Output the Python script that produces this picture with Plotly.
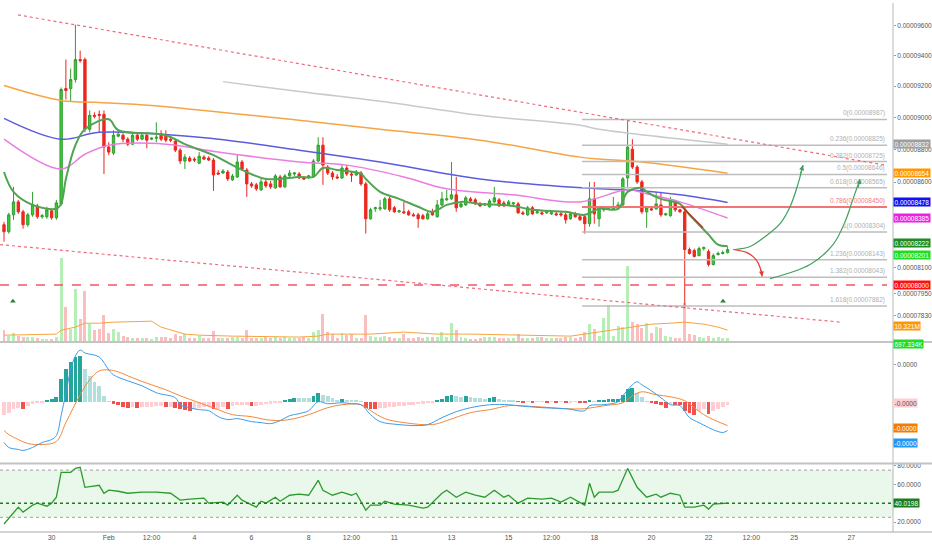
import math
import pandas as pd
import plotly.graph_objects as go

# prices are written in units of 0.00000001, MACD values in units of 1e-9
SAT = 1e-8
MU = 1e-9

times = pd.date_range("2019-01-28 08:00", periods=153, freq="4h")

open_ = [8346, 8305, 8404, 8481, 8422, 8346, 8404, 8457, 8393, 8393,
         8428, 8387, 8469, 9184, 9184, 9242, 9373, 9373, 8925, 9013,
         9019, 9019, 8814, 8777, 8882, 8888, 8863, 8832, 8888, 8863,
         8888, 8863, 8869, 8888, 8882, 8863, 8851, 8795, 8728, 8746,
         8740, 8715, 8752, 8746, 8734, 8655, 8655, 8661, 8613, 8631,
         8722, 8673, 8589, 8583, 8553, 8601, 8589, 8565, 8631, 8571,
         8637, 8649, 8649, 8625, 8631, 8631, 8728, 8826, 8691, 8655,
         8631, 8625, 8685, 8649, 8643, 8655, 8589, 8381, 8440, 8440,
         8440, 8499, 8446, 8422, 8422, 8422, 8404, 8404, 8399, 8381,
         8422, 8393, 8463, 8493, 8499, 8523, 8452, 8463, 8499, 8493,
         8469, 8463, 8452, 8481, 8493, 8475, 8463, 8469, 8469, 8416,
         8404, 8446, 8416, 8416, 8416, 8410, 8410, 8410, 8404, 8381,
         8410, 8393, 8393, 8352, 8499, 8381, 8434, 8440, 8440, 8446,
         8463, 8625, 8801, 8691, 8601, 8422, 8440, 8440, 8463, 8404,
         8399, 8481, 8434, 8422, 8202, 8196, 8167, 8207, 8190, 8116,
         8173, 8179, 8184]
close = [8305, 8404, 8481, 8422, 8346, 8404, 8463, 8393, 8399, 8434,
         8387, 8475, 9178, 9172, 9242, 9373, 9366, 8925, 9013, 9007,
         9013, 8814, 8783, 8888, 8894, 8863, 8832, 8888, 8863, 8888,
         8857, 8869, 8875, 8863, 8857, 8857, 8795, 8728, 8752, 8728,
         8734, 8758, 8740, 8734, 8643, 8649, 8667, 8619, 8637, 8722,
         8679, 8589, 8577, 8559, 8601, 8577, 8571, 8637, 8571, 8637,
         8655, 8655, 8625, 8619, 8637, 8728, 8826, 8703, 8655, 8631,
         8625, 8685, 8649, 8643, 8661, 8589, 8381, 8434, 8446, 8446,
         8499, 8434, 8422, 8428, 8416, 8404, 8399, 8381, 8381, 8410,
         8404, 8463, 8499, 8499, 8523, 8446, 8469, 8505, 8487, 8469,
         8457, 8469, 8487, 8505, 8457, 8457, 8481, 8475, 8416, 8410,
         8446, 8410, 8422, 8410, 8422, 8416, 8404, 8404, 8375, 8410,
         8393, 8375, 8352, 8499, 8410, 8446, 8440, 8446, 8452, 8463,
         8619, 8814, 8691, 8601, 8422, 8446, 8434, 8469, 8404, 8410,
         8487, 8434, 8422, 8202, 8179, 8162, 8207, 8213, 8116, 8167,
         8179, 8184, 8201]
high = [8363, 8416, 8571, 8493, 8434, 8416, 8541, 8469, 8410, 8452,
        8440, 8493, 9191, 9373, 9314, 9605, 9432, 9386, 9044, 9032,
        9044, 9044, 8844, 8919, 8913, 8900, 8875, 8900, 8900, 8900,
        8900, 8875, 8969, 8919, 8919, 8882, 8863, 8807, 8770, 8758,
        8752, 8783, 8764, 8758, 8746, 8673, 8679, 8673, 8649, 8770,
        8734, 8685, 8601, 8595, 8625, 8625, 8607, 8649, 8643, 8649,
        8673, 8661, 8661, 8637, 8643, 8740, 8875, 8875, 8703, 8667,
        8649, 8709, 8703, 8661, 8673, 8667, 8601, 8446, 8452, 8493,
        8511, 8511, 8457, 8434, 8481, 8434, 8416, 8416, 8410, 8422,
        8440, 8493, 8541, 8553, 8722, 8631, 8481, 8517, 8511, 8505,
        8481, 8475, 8499, 8571, 8505, 8487, 8493, 8481, 8481, 8428,
        8457, 8457, 8428, 8428, 8428, 8422, 8422, 8422, 8416, 8422,
        8422, 8404, 8404, 8601, 8601, 8457, 8452, 8452, 8511, 8481,
        8631, 8988, 8863, 8703, 8613, 8457, 8452, 8541, 8541, 8416,
        8511, 8493, 8440, 8434, 8213, 8207, 8219, 8219, 8202, 8179,
        8190, 8196, 8219]
low = [8247, 8294, 8375, 8410, 8323, 8334, 8393, 8381, 8381, 8381,
       8375, 8375, 8457, 9114, 9101, 9223, 9353, 8906, 8906, 8994,
       8906, 8649, 8764, 8764, 8875, 8844, 8820, 8826, 8851, 8857,
       8807, 8857, 8844, 8851, 8844, 8844, 8783, 8709, 8679, 8722,
       8722, 8709, 8734, 8728, 8547, 8643, 8649, 8607, 8607, 8625,
       8667, 8511, 8565, 8547, 8547, 8565, 8559, 8559, 8565, 8565,
       8631, 8637, 8619, 8613, 8619, 8625, 8722, 8583, 8643, 8613,
       8619, 8619, 8637, 8601, 8637, 8577, 8294, 8375, 8422, 8428,
       8434, 8422, 8416, 8416, 8410, 8399, 8393, 8328, 8375, 8375,
       8399, 8387, 8457, 8487, 8493, 8422, 8446, 8457, 8481, 8463,
       8452, 8457, 8446, 8475, 8452, 8452, 8457, 8463, 8410, 8404,
       8399, 8404, 8410, 8404, 8410, 8404, 8399, 8393, 8352, 8375,
       8387, 8369, 8294, 8334, 8352, 8334, 8422, 8434, 8434, 8440,
       8457, 8571, 8679, 8589, 8410, 8328, 8428, 8434, 8393, 8399,
       8393, 8422, 8416, 7870, 8173, 8156, 8162, 8196, 8104, 8110,
       8167, 8173, 8179]

# volume, millions
volume = [10.3, 4.7, 7.5, 4.7, 3.8, 3.8, 3.8, 2.8, 1.9, 1.9,
          1.9, 3.8, 79.0, 32.0, 11.3, 48.9, 20.7, 47.0, 16.0, 10.3,
          11.3, 24.4, 7.5, 11.3, 8.5, 4.7, 3.8, 2.8, 2.8, 2.8,
          2.8, 1.9, 3.8, 3.8, 3.8, 2.8, 6.6, 4.7, 6.6, 2.8,
          2.8, 4.7, 2.8, 2.8, 9.4, 2.8, 2.8, 2.8, 3.8, 3.8,
          2.8, 10.3, 2.8, 2.8, 2.8, 4.7, 2.8, 3.8, 2.8, 3.8,
          2.8, 2.8, 2.8, 3.8, 2.8, 8.5, 10.3, 25.4, 8.5, 6.6,
          2.8, 7.5, 5.6, 6.6, 2.8, 2.8, 24.4, 4.7, 3.8, 3.8,
          4.7, 3.8, 2.8, 2.8, 6.6, 2.8, 2.8, 3.8, 2.8, 3.8,
          3.8, 3.8, 8.5, 3.8, 16.9, 10.3, 3.8, 2.8, 1.9, 1.9,
          2.8, 3.8, 3.8, 3.8, 2.8, 2.8, 2.8, 2.8, 6.6, 2.8,
          2.8, 2.8, 3.8, 3.8, 2.8, 2.8, 2.8, 2.8, 3.8, 3.8,
          2.8, 3.8, 8.5, 16.0, 11.3, 4.7, 21.6, 33.8, 4.7, 14.1,
          13.2, 71.4, 17.9, 16.0, 12.2, 16.9, 7.5, 13.2, 12.2, 4.7,
          3.8, 2.8, 2.8, 35.7, 6.6, 5.6, 3.8, 2.8, 4.7, 2.8,
          3.8, 2.8, 2.8]
vol_ma_idx = [0, 11, 12, 15, 17, 20, 23, 31, 33, 38, 41, 48, 62, 66, 68, 77,
              84, 91, 98, 108, 119, 122, 126, 130, 133, 136, 140, 143, 147, 150, 152]
vol_ma_val = [5.6, 6.6, 10.3, 13.2, 16.9, 16.9, 17.9, 18.8, 13.2, 6.6, 5.6, 4.7,
              3.8, 4.7, 6.6, 6.6, 8.5, 6.6, 6.6, 5.6, 4.7, 6.6, 9.4, 12.2, 14.1,
              16.0, 16.9, 17.9, 16.0, 13.2, 10.32]

# moving averages on price (index of bar, value)
ema_fast_idx = [0, 2, 6, 11, 12, 13, 15, 17, 22, 24, 34, 38, 44, 48, 55, 62, 65, 67,
                70, 75, 76, 79, 83, 87, 90, 93, 96, 100, 107, 111, 118, 122, 125,
                129, 131, 134, 135, 138, 142, 144, 148, 150, 152]
ema_fast_val = [8661, 8541, 8463, 8440, 8469, 8619, 8826, 8925, 8988, 8919, 8888,
                8832, 8764, 8703, 8619, 8631, 8631, 8685, 8673, 8649, 8619, 8541,
                8499, 8452, 8422, 8463, 8481, 8469, 8457, 8434, 8422, 8404, 8440,
                8440, 8541, 8565, 8541, 8499, 8469, 8404, 8288, 8230, 8222]
ma_orange_idx = [0, 12, 20, 31, 58, 62, 79, 100, 121, 125, 134, 152]
ma_orange_val = [9204, 9108, 9095, 9076, 8994, 8982, 8925, 8857, 8752, 8740, 8722, 8654]
ma_grey_idx = [46, 62, 81, 100, 121, 125, 152]
ma_grey_val = [9229, 9165, 9095, 9013, 8950, 8925, 8832]
ma_blue_idx = [0, 12, 20, 41, 62, 79, 100, 125, 131, 142, 152]
ma_blue_val = [8994, 8863, 8906, 8875, 8795, 8722, 8619, 8559, 8553, 8523, 8478]
ma_pink_idx = [0, 12, 17, 22, 34, 45, 62, 72, 84, 93, 107, 121, 131, 135, 142, 152]
ma_pink_val = [8863, 8679, 8770, 8826, 8832, 8783, 8722, 8703, 8631, 8559, 8523,
               8481, 8553, 8529, 8481, 8385]

# MACD
macd_hist = [-13, -11, -7, -6, -7, -4, -2, -1, -0.5, 2,
             3, 5, 23, 33, 40, 45, 45.5, 33, 26, 20,
             16, 6, 0.5, -2, -3, -5, -6, -5, -6, -5,
             -5, -5, -4.5, -4.5, -5, -5, -6, -7, -8, -9,
             -7, -6, -5, -5, -7, -7, -5, -7, -4, -3.5,
             -3.5, -3.5, -4, -4, -3.5, -2.5, -2, -1, -0.5, 1,
             3, 4, 3.8, 3.7, 3.6, 6, 9, 7, 5.5, 4,
             2, 3, 1.5, 1, 0.7, 0.2, -6, -7, -7.2, -6.5,
             -6, -5.5, -5, -4.5, -4, -3.5, -3, -2.5, -2, -1.5,
             -0.7, 2, 3, 5.5, 7, 6, 4.5, 6, 5, 4,
             3.5, 3, 4, 4.3, 2.5, 2, 1.5, 1, -0.3, -0.5,
             -0.3, -0.5, -0.3, -0.2, -0.4, -0.2, -0.5, -0.2, -0.8, -0.4,
             -0.2, -0.4, -0.6, 1.5, 0.5, 1.5, 2, 2.2, 2.5, 3,
             7, 13, 14, 9, 5, 0.5, -1.5, -2, -3.5, -6,
             -2.5, -3.5, -3.7, -9, -11, -13, -9, -7.5, -12, -9,
             -7.5, -5, -3.5]
macd_idx = [0, 1, 3, 4, 6, 8, 10, 11, 12, 13, 14, 15, 16, 17, 20, 22, 23, 26, 29, 32,
            36, 37, 39, 41, 43, 45, 47, 49, 52, 54, 56, 58, 60, 62, 64, 66, 68, 71, 73,
            75, 77, 79, 83, 87, 89, 92, 95, 98, 102, 106, 108, 113, 118, 122, 123, 126,
            129, 130, 132, 133, 134, 136, 138, 140, 142, 144, 146, 148, 150, 151, 152]
macd_val = [-41, -46, -48, -49, -46, -41, -38, -34, -14, 9, 32, 46, 52, 49, 45, 32, 27,
            21, 16, 9, 4, -3, -6, -8, -9, -15, -18, -17, -20, -21, -22, -19, -14, -12,
            -9, 0, -2, -1, -2, -3, -13, -20, -23, -24, -23, -16, -10, -6, -3, -3, -4,
            -6, -7, -9, -4, -3, 0, 6, 17, 20, 17, 11, 4, -3, -4, -16, -21, -26, -30,
            -31, -29]
signal_idx = [0, 1, 3, 5, 8, 11, 13, 16, 18, 20, 22, 24, 27, 31, 34, 37, 41, 45, 48, 52,
              55, 58, 61, 64, 68, 71, 75, 77, 80, 84, 90, 93, 98, 102, 106, 108, 112,
              118, 122, 126, 130, 132, 134, 137, 140, 143, 145, 147, 149, 152]
signal_val = [-29, -33, -38, -42, -43, -40, -21, 7, 22, 31, 32, 30, 24, 17, 12, 6, -1,
              -8, -13, -15, -18, -19, -17, -13, -6, -3, -3, -9, -17, -21, -23, -19,
              -11, -8, -4, -4, -5, -7, -7, -4, -1, 6, 10, 7, 5, 1, -6, -13, -18, -24]

# RSI
rsi_idx = [0, 2, 3, 4, 6, 7, 9, 10, 11, 12, 14, 15, 16, 17, 20, 21, 22, 24, 26, 29,
           32, 35, 37, 39, 42, 43, 46, 47, 49, 50, 52, 53, 54, 55, 57, 58, 60, 62, 64,
           66, 67, 69, 71, 73, 74, 76, 77, 79, 80, 82, 85, 88, 89, 92, 93, 95, 97, 99,
           101, 103, 105, 106, 108, 110, 113, 115, 117, 119, 122, 123, 124, 125, 128,
           129, 131, 133, 135, 137, 138, 140, 142, 143, 145, 147, 148, 149, 152]
rsi_val = [17.9, 29.5, 35.8, 30.5, 37.9, 40, 36.8, 40, 46.3, 72.6, 72.6, 76.8, 77.9,
           56.8, 58.9, 50.5, 53.7, 52.6, 50.5, 51.6, 51.6, 50.5, 43.2, 44.2, 45.3, 40,
           41.1, 37.9, 48.4, 43.2, 37.9, 35.8, 42.1, 40, 46.3, 42.1, 48.4, 49.5, 48.4,
           64.2, 53.7, 48.4, 51.6, 48.4, 50.5, 32.6, 37.9, 37.9, 42.1, 38.9, 37.9, 34.7,
           35.8, 50.5, 53.7, 46.3, 51.6, 48.4, 46.3, 53.7, 46.3, 48.4, 40, 45.3, 44.2,
           45.3, 41.1, 46.3, 37.9, 61.1, 46.3, 51.6, 51.6, 53.7, 76.8, 56.8, 46.3, 49.5,
           46.3, 50.5, 48.4, 35.8, 35.8, 37.9, 33.7, 38.9, 40.02]

# drawings
fib_ratio = ["0", "0.236", "0.382", "0.5", "0.618", "0.786", "1", "1.236", "1.382", "1.618"]
fib_price = [8987, 8825, 8725, 8646, 8565, 8450, 8304, 8143, 8043, 7882]
fib_span = ["2019-02-17 13:40", "2019-02-28 06:00"]
chan_top_t = ["2019-01-28 19:45", "2019-02-28 04:20"]
chan_top_p = [9672, 8703]
chan_bot_t = ["2019-01-28 04:40", "2019-02-26 14:30"]
chan_bot_p = [8230, 7794]
support_t = ["2019-01-28 04:40", "2019-02-28 06:00"]
support_p = 8000
arrow1_t = ["2019-02-22 22:18", "2019-02-23 10:54", "2019-02-23 23:30", "2019-02-24 12:06",
            "2019-02-24 20:30", "2019-02-25 03:12", "2019-02-25 07:24"]
arrow1_p = [8202, 8219, 8276, 8352, 8452, 8589, 8703]
arrow2_t = ["2019-02-24 03:42", "2019-02-25 13:18", "2019-02-26 08:36", "2019-02-26 18:42",
            "2019-02-27 00:36", "2019-02-27 07:18"]
arrow2_p = [8036, 8116, 8230, 8363, 8481, 8619]
arrow3_t = ["2019-02-22 20:36", "2019-02-23 08:18", "2019-02-23 15:54", "2019-02-23 19:18",
            "2019-02-23 21:00"]
arrow3_p = [8202, 8184, 8144, 8099, 8048]
trend_t = ["2019-02-21 01:40", "2019-02-21 19:20"]
trend_p = [8452, 8328]
marks_t = ["2019-01-28 15:30", "2019-02-22 12:10"]
marks_p = [7909, 7909]

x_ticks = ["2019-01-30", "2019-02-01", "2019-02-02 12:00", "2019-02-04", "2019-02-06",
           "2019-02-08", "2019-02-09 12:00", "2019-02-11", "2019-02-13", "2019-02-15",
           "2019-02-16 12:00", "2019-02-18", "2019-02-20", "2019-02-22", "2019-02-23 12:00",
           "2019-02-25", "2019-02-27"]
x_labels = ["30", "Feb", "12:00", "4", "6", "8", "12:00", "11", "13", "15", "12:00",
            "18", "20", "22", "12:00", "25", "27"]
price_ticks = [9600, 9400, 9200, 9000, 8800, 8600, 8100, 7950, 7830]


def px(vals):
    return [v * SAT for v in vals]


def at(idx):
    return [times[i] for i in idx]


FONT = "Liberation Sans"
fig = go.Figure()

up = [c >= o for o, c in zip(open_, close)]
fig.add_trace(go.Bar(x=times, y=volume, yaxis="y", xaxis="x", width=9.0e6,
                     marker=dict(color=["rgba(90,220,90,0.45)" if u else "rgba(245,110,110,0.45)"
                                        for u in up], line_width=0)))
fig.add_trace(go.Scatter(x=at(vol_ma_idx), y=vol_ma_val, yaxis="y", mode="lines",
                         line=dict(color="#f7a440", width=1)))

for t_, p_, col, w in [(at(ma_grey_idx), ma_grey_val, "#c9c9c9", 1.5),
                       (at(ma_orange_idx), ma_orange_val, "#f5a545", 1.5),
                       (at(ma_blue_idx), ma_blue_val, "#5d5be0", 1.5),
                       (at(ma_pink_idx), ma_pink_val, "#ec7de0", 1.5)]:
    fig.add_trace(go.Scatter(x=t_, y=px(p_), yaxis="y2", mode="lines",
                             line=dict(color=col, width=w, shape="spline")))

for r, p in zip(fib_ratio, fib_price):
    red = r == "0.786"
    fig.add_trace(go.Scatter(x=fib_span, y=px([p, p]), yaxis="y2", mode="lines",
                             line=dict(color="#f27474" if red else "#bdbdbd", width=2 if red else 1.5)))

fig.add_trace(go.Scatter(x=support_t, y=px([support_p, support_p]), yaxis="y2", mode="lines",
                         line=dict(color="#f25567", width=1.5, dash="dash")))
for t_, p_ in [(chan_top_t, chan_top_p), (chan_bot_t, chan_bot_p)]:
    fig.add_trace(go.Scatter(x=t_, y=px(p_), yaxis="y2", mode="lines",
                             line=dict(color="#f06a7a", width=1.2, dash="dot")))

fig.add_trace(go.Candlestick(x=times, open=px(open_), high=px(high), low=px(low), close=px(close),
                             yaxis="y2", whiskerwidth=0,
                             increasing=dict(fillcolor="#3ccc3c", line=dict(color="#2f9e2f", width=1)),
                             decreasing=dict(fillcolor="#f2271c", line=dict(color="#e8271e", width=1))))
fig.add_trace(go.Scatter(x=at(ema_fast_idx), y=px(ema_fast_val), yaxis="y2", mode="lines",
                         line=dict(color="#52a352", width=2, shape="spline")))
fig.add_trace(go.Scatter(x=trend_t, y=px(trend_p), yaxis="y2", mode="lines",
                         line=dict(color="#c62828", width=1.5)))
for t_, p_, col in [(arrow1_t, arrow1_p, "#3f9f5f"), (arrow2_t, arrow2_p, "#3f9f5f"),
                    (arrow3_t, arrow3_p, "#e53935")]:
    fig.add_trace(go.Scatter(x=t_, y=px(p_), yaxis="y2", mode="lines",
                             line=dict(color=col, width=1.2, shape="spline")))
fig.add_trace(go.Scatter(x=marks_t, y=px(marks_p), yaxis="y2", mode="markers",
                         marker=dict(symbol="triangle-up", size=5, color="#2e7d32")))

# MACD pane
hist_col = []
for i, v in enumerate(macd_hist):
    prev = macd_hist[i - 1] if i else v
    if v >= 0:
        hist_col.append("#26a69a" if v >= prev else "#b2dfdb")
    else:
        hist_col.append("#ef5350" if v < prev else "#ffcdd2")
fig.add_trace(go.Bar(x=times, y=[v * MU for v in macd_hist], xaxis="x2", yaxis="y3",
                     width=1.15e7, marker=dict(color=hist_col, line_width=0)))
fig.add_trace(go.Scatter(x=at(signal_idx), y=[v * MU for v in signal_val], xaxis="x2", yaxis="y3",
                         mode="lines", line=dict(color="#f5873a", width=1, shape="spline")))
fig.add_trace(go.Scatter(x=at(macd_idx), y=[v * MU for v in macd_val], xaxis="x2", yaxis="y3",
                         mode="lines", line=dict(color="#3d9be9", width=1, shape="spline")))

# RSI pane
fig.add_trace(go.Scatter(x=at(rsi_idx), y=rsi_val, xaxis="x3", yaxis="y4", mode="lines",
                         line=dict(color="#2e9a2e", width=1.3)))

xrange_ = ["2019-01-28 04:38", "2019-02-28 11:00"]
axis_font = dict(family=FONT, size=6.5, color="#555555")
common_x = dict(range=xrange_, showgrid=False, zeroline=False, showline=False,
                rangeslider=dict(visible=False))
fig.update_layout(
    width=932, height=550, margin=dict(l=0, r=39, t=0, b=18),
    paper_bgcolor="white", plot_bgcolor="white", showlegend=False, bargap=0,
    font=dict(family=FONT),
    xaxis=dict(common_x, showticklabels=False),
    xaxis2=dict(common_x, matches="x", showticklabels=False, anchor="y3"),
    xaxis3=dict(common_x, matches="x", anchor="y4", tickvals=x_ticks, ticktext=x_labels,
                tickfont=dict(family=FONT, size=7, color="#555555"), ticks=""),
    yaxis=dict(domain=[0.3609, 1], range=[0, 319.6], visible=False),
    yaxis2=dict(overlaying="y", type="log", side="right", anchor="x",
                range=[math.log10(7690.6 * SAT), math.log10(9753.3 * SAT)],
                tickvals=px(price_ticks), ticktext=[f"{v * SAT:.8f}" for v in price_ticks],
                tickfont=axis_font, ticks="outside", ticklen=2, tickcolor="#999999",
                showgrid=False, zeroline=False),
    yaxis3=dict(domain=[0.1316, 0.3553], anchor="x2", side="right",
                range=[-61 * MU, 58 * MU], tickvals=[37 * MU], ticktext=["0.0000"],
                tickfont=axis_font, ticks="outside", ticklen=2, tickcolor="#999999",
                showgrid=False, zeroline=False),
    yaxis4=dict(domain=[0, 0.1278], anchor="x3", side="right", range=[9.47, 81.05],
                tickvals=[80, 60, 20], ticktext=["80.0000", "60.0000", "20.0000"],
                tickfont=axis_font, ticks="outside", ticklen=2, tickcolor="#999999",
                showgrid=False, zeroline=False),
)

shapes = [
    dict(type="rect", xref="paper", x0=0, x1=1, yref="y4", y0=25, y1=75,
         fillcolor="rgba(76,200,80,0.12)", line_width=0, layer="below"),
    dict(type="line", xref="paper", x0=0, x1=1, yref="y4", y0=75, y1=75,
         line=dict(color="#a0a0a0", width=1, dash="dot")),
    dict(type="line", xref="paper", x0=0, x1=1, yref="y4", y0=25, y1=25,
         line=dict(color="#a0a0a0", width=1, dash="dot")),
    dict(type="line", xref="paper", x0=0, x1=1, yref="y4", y0=40.02, y1=40.02,
         line=dict(color="#1b7d1b", width=1.5, dash="dot")),
    dict(type="line", xref="paper", x0=0, x1=1.05, yref="paper", y0=0.3590, y1=0.3590,
         line=dict(color="#c4c4c4", width=2)),
    dict(type="line", xref="paper", x0=0, x1=1.05, yref="paper", y0=0.1297, y1=0.1297,
         line=dict(color="#c4c4c4", width=2)),
    dict(type="line", xref="paper", x0=0, x1=1.05, yref="paper", y0=0, y1=0,
         line=dict(color="#c4c4c4", width=1.5)),
    dict(type="line", xref="paper", x0=1, x1=1, yref="paper", y0=0, y1=1,
         line=dict(color="#b8b8b8", width=1)),
]
fig.update_layout(shapes=shapes)

ann = []
for r, p in zip(fib_ratio, fib_price):
    red = r == "0.786"
    ann.append(dict(x=fib_span[1], y=math.log10(p * SAT), xref="x", yref="y2",
                    xanchor="right", yanchor="bottom", showarrow=False,
                    text=f"{r}({p * SAT:.8f})",
                    font=dict(family=FONT, size=6.5, color="#f08080" if red else "#b0b0b0")))

for t_, p_, ax, ay, col in [(arrow1_t[-1], arrow1_p[-1], -3, 10, "#3f9f5f"),
                            (arrow2_t[-1], arrow2_p[-1], -2, 10, "#3f9f5f"),
                            (arrow3_t[-1], arrow3_p[-1], -1, -8, "#e53935")]:
    ann.append(dict(x=t_, y=math.log10(p_ * SAT), xref="x", yref="y2", text="",
                    showarrow=True, ax=ax, ay=ay, arrowhead=2, arrowsize=1,
                    arrowwidth=1, arrowcolor=col, standoff=0))


def tag(text, y, yref, bg, fg="white", shift=0):
    return dict(x=1, xref="paper", xanchor="left", xshift=0, y=y, yref=yref, yshift=shift,
                text=text, showarrow=False, bgcolor=bg, borderpad=0.5,
                font=dict(family=FONT, size=6.5, color=fg))


for val, bg, sh in [(8832, "#9e9e9e", 0), (8654, "#ff9800", 0), (8478, "#1010f5", 0),
                    (8385, "#f01fe4", 0), (8222, "#1e8c1e", 3), (8201, "#21dd21", -5),
                    (8000, "#ff1010", 0)]:
    ann.append(tag(f"{val * SAT:.8f}", math.log10(val * SAT), "y2", bg, shift=sh))
ann.append(tag("10.321M", 10.32, "y", "#ff9800", shift=4))
ann.append(tag("697.334K", 0, "y", "#21dd21", shift=-3))
ann.append(tag("-0.0000", -3.5 * MU, "y3", "#ffcdd2", fg="#555555", shift=2))
ann.append(tag("-0.0000", -26 * MU, "y3", "#f57c00"))
ann.append(tag("-0.0000", -42 * MU, "y3", "#2196f3"))
ann.append(tag("40.0198", 40.02, "y4", "#1b7d1b"))
fig.update_layout(annotations=ann)

fig.write_html("out.html", config={"displayModeBar": False},
               post_script="document.body.style.margin='0';")
